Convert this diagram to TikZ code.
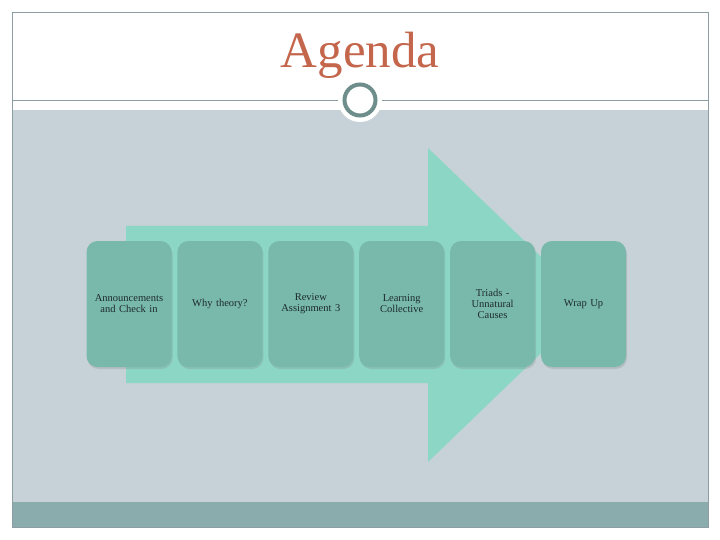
\documentclass[tikz,border=0pt]{standalone}
\usepackage{fontspec}
\setmainfont{Liberation Serif}
\usetikzlibrary{positioning, shadows}

\definecolor{framegray}{HTML}{8C9EA3}
\definecolor{bodygray}{HTML}{C6D2D8}
\definecolor{bandteal}{HTML}{8AACAC}
\definecolor{ringteal}{HTML}{6E8E8C}
\definecolor{titlerust}{HTML}{C4664C}
\definecolor{arrowmint}{HTML}{8CD6C6}
\definecolor{boxteal}{HTML}{78B9AC}
\definecolor{boxtext}{HTML}{1E2B2A}

\begin{document}
\begin{tikzpicture}[
        x=1pt, y=-1pt,
        node distance=5.5pt,
        title/.style={text=titlerust, font=\fontsize{51}{51}\selectfont, anchor=base, inner sep=0pt},
        block/.style={rectangle, fill=boxteal, rounded corners=11pt, minimum width=85pt, minimum height=126pt,
            inner sep=2pt, text width=78pt, align=center, text=boxtext, font=\fontsize{10.5}{11}\selectfont,
            drop shadow={opacity=0.25, shadow xshift=1pt, shadow yshift=-2pt}},
        ring/.style={draw=ringteal, line width=4pt, fill=white}
    ]
    \useasboundingbox (0,0) rectangle (720,540);

    % Slide background
    \fill[bodygray] (12,110) rectangle (708,502);
    \fill[bandteal] (12,502) rectangle (708,527);
    \draw[framegray, line width=0.8pt] (12,12) rectangle (708,527);
    \draw[framegray, line width=0.8pt] (12,100) -- (708,100);

    % Title with ring
    \node[title] (title) at (360,68) {Agenda};
    \fill[white] (360,100) circle (22);
    \node[ring, circle, minimum size=31pt, inner sep=0pt] (ring) at (360,100) {};

    % Big arrow behind the steps
    \fill[arrowmint] (126,226) -- (428,226) -- (428,148) -- (591,305) -- (428,462) -- (428,383) -- (126,383) -- cycle;

    % Steps
    \node[block] (announce) at (129,304) {Announcements\\ and Check in};
    \node[block, right=of announce] (theory) {Why theory?};
    \node[block, right=of theory] (review) {Review\\ Assignment 3};
    \node[block, right=of review] (learning) {Learning\\ Collective};
    \node[block, right=of learning] (triads) {Triads -\\ Unnatural\\ Causes};
    \node[block, right=of triads] (wrapup) {Wrap Up};

\end{tikzpicture}
\end{document}
